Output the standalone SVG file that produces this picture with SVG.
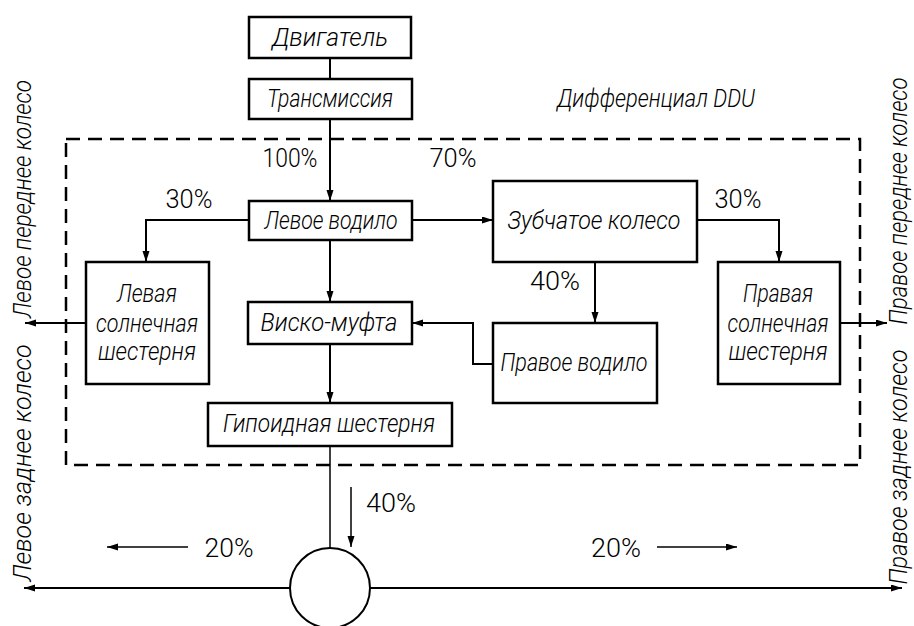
<svg xmlns="http://www.w3.org/2000/svg" width="914" height="626" viewBox="0 0 914 626">
  <defs>
    <marker id="arr" markerUnits="userSpaceOnUse" markerWidth="12" markerHeight="8" refX="11" refY="3.5" orient="auto">
      <path d="M0,0 L11,3.5 L0,7 Z" fill="#000"/>
    </marker>
    <style>
      .box { fill: #fff; stroke: #000; stroke-width: 2.5; }
      .ln { fill: none; stroke: #000; stroke-width: 2; }
      .thin { fill: none; stroke: #000; stroke-width: 1.5; }
      .frame { fill: none; stroke: #000; stroke-width: 2.5; stroke-dasharray: 14 8; }
      .t { font-family: Roboto, "Open Sans", "DejaVu Sans Condensed", sans-serif; font-weight: 300; font-style: italic; font-size: 25px; fill: #000; text-anchor: middle; }
      .p { font-family: Roboto, "Open Sans", "DejaVu Sans Condensed", sans-serif; font-weight: 300; font-size: 26px; fill: #000; text-anchor: middle; }
    </style>
  </defs>

  <rect width="914" height="626" fill="#fff"/>

  <!-- DDU differential housing -->
  <g id="ddu">
    <rect class="frame" x="66" y="139" width="794" height="326"/>
    <text class="t" x="656" y="107" textLength="198" lengthAdjust="spacingAndGlyphs">Дифференциал DDU</text>
  </g>

  <!-- connectors -->
  <g id="connectors">
    <line class="ln" x1="330" y1="58" x2="330" y2="79"/>
    <line class="ln" x1="330" y1="119" x2="330" y2="201" marker-end="url(#arr)"/>
    <polyline class="ln" points="249,220 146,220 146,262" marker-end="url(#arr)"/>
    <line class="ln" x1="412" y1="220" x2="493" y2="220" marker-end="url(#arr)"/>
    <polyline class="ln" points="697,220 779,220 779,262" marker-end="url(#arr)"/>
    <line class="ln" x1="330" y1="240" x2="330" y2="302" marker-end="url(#arr)"/>
    <line class="ln" x1="595" y1="262" x2="595" y2="323" marker-end="url(#arr)"/>
    <polyline class="ln" points="493,364 473,364 473,323 412,323" marker-end="url(#arr)"/>
    <line class="ln" x1="330" y1="344" x2="330" y2="403" marker-end="url(#arr)"/>
    <line class="ln" x1="86" y1="323" x2="25" y2="323" marker-end="url(#arr)"/>
    <line class="ln" x1="840" y1="323" x2="887" y2="323" marker-end="url(#arr)"/>
    <line class="thin" x1="330" y1="446" x2="330" y2="548"/>
    <line class="thin" x1="351" y1="487" x2="351" y2="547" marker-end="url(#arr)"/>
    <line class="thin" x1="188" y1="547" x2="107" y2="547" marker-end="url(#arr)"/>
    <line class="thin" x1="657" y1="547" x2="737" y2="547" marker-end="url(#arr)"/>
    <line class="ln" x1="290" y1="588" x2="24" y2="588" stroke-width="2.5" marker-end="url(#arr)"/>
    <line class="ln" x1="370" y1="588" x2="902" y2="588" stroke-width="2.5" marker-end="url(#arr)"/>
  </g>

  <!-- power split labels -->
  <g id="percent">
    <text class="p" x="290" y="167" textLength="55" lengthAdjust="spacingAndGlyphs">100%</text>
    <text class="p" x="453" y="167" textLength="47" lengthAdjust="spacingAndGlyphs">70%</text>
    <text class="p" x="189" y="208" textLength="47" lengthAdjust="spacingAndGlyphs">30%</text>
    <text class="p" x="738" y="208" textLength="47" lengthAdjust="spacingAndGlyphs">30%</text>
    <text class="p" x="555" y="290" textLength="50" lengthAdjust="spacingAndGlyphs">40%</text>
    <text class="p" x="391" y="512" textLength="50" lengthAdjust="spacingAndGlyphs">40%</text>
    <text class="p" x="229" y="557" textLength="49" lengthAdjust="spacingAndGlyphs">20%</text>
    <text class="p" x="616" y="557" textLength="50" lengthAdjust="spacingAndGlyphs">20%</text>
  </g>

  <g id="engine">
    <rect class="box" x="249" y="17" width="162" height="41"/>
    <text class="t" x="330" y="46" textLength="116" lengthAdjust="spacingAndGlyphs">Двигатель</text>
  </g>
  <g id="transmission">
    <rect class="box" x="249" y="79" width="163" height="40"/>
    <text class="t" x="330" y="107" textLength="126" lengthAdjust="spacingAndGlyphs">Трансмиссия</text>
  </g>
  <g id="left-carrier">
    <rect class="box" x="249" y="201" width="163" height="39"/>
    <text class="t" x="331" y="229" textLength="133" lengthAdjust="spacingAndGlyphs">Левое водило</text>
  </g>
  <g id="ring-gear">
    <rect class="box" x="493" y="181" width="204" height="81"/>
    <text class="t" x="594" y="229" textLength="173" lengthAdjust="spacingAndGlyphs">Зубчатое колесо</text>
  </g>
  <g id="left-sun">
    <rect class="box" x="86" y="262" width="123" height="122"/>
    <text class="t" x="147" y="302" textLength="60" lengthAdjust="spacingAndGlyphs">Левая</text>
    <text class="t" x="147" y="332" textLength="102" lengthAdjust="spacingAndGlyphs">солнечная</text>
    <text class="t" x="147" y="360" textLength="98" lengthAdjust="spacingAndGlyphs">шестерня</text>
  </g>
  <g id="right-sun">
    <rect class="box" x="718" y="262" width="122" height="122"/>
    <text class="t" x="778" y="302" textLength="70" lengthAdjust="spacingAndGlyphs">Правая</text>
    <text class="t" x="778" y="332" textLength="101" lengthAdjust="spacingAndGlyphs">солнечная</text>
    <text class="t" x="778" y="360" textLength="99" lengthAdjust="spacingAndGlyphs">шестерня</text>
  </g>
  <g id="visco">
    <rect class="box" x="248" y="302" width="164" height="42"/>
    <text class="t" x="329" y="331" textLength="137" lengthAdjust="spacingAndGlyphs">Виско-муфта</text>
  </g>
  <g id="right-carrier">
    <rect class="box" x="493" y="323" width="164" height="80"/>
    <text class="t" x="574" y="371" textLength="147" lengthAdjust="spacingAndGlyphs">Правое водило</text>
  </g>
  <g id="hypoid">
    <rect class="box" x="208" y="403" width="244" height="43"/>
    <text class="t" x="329" y="432" textLength="212" lengthAdjust="spacingAndGlyphs">Гипоидная шестерня</text>
  </g>
  <g id="rear-diff">
    <circle cx="330" cy="588" r="40" fill="#fff" stroke="#000" stroke-width="2"/>
  </g>

  <!-- wheel labels -->
  <g id="wheels">
    <text class="t" transform="translate(31,199) rotate(-90)" textLength="238" lengthAdjust="spacingAndGlyphs">Левое переднее колесо</text>
    <text class="t" transform="translate(31,463) rotate(-90)" textLength="237" lengthAdjust="spacingAndGlyphs">Левое заднее колесо</text>
    <text class="t" transform="translate(907,201) rotate(-90)" textLength="247" lengthAdjust="spacingAndGlyphs">Правое переднее колесо</text>
    <text class="t" transform="translate(907,467) rotate(-90)" textLength="235" lengthAdjust="spacingAndGlyphs">Правое заднее колесо</text>
  </g>
</svg>
